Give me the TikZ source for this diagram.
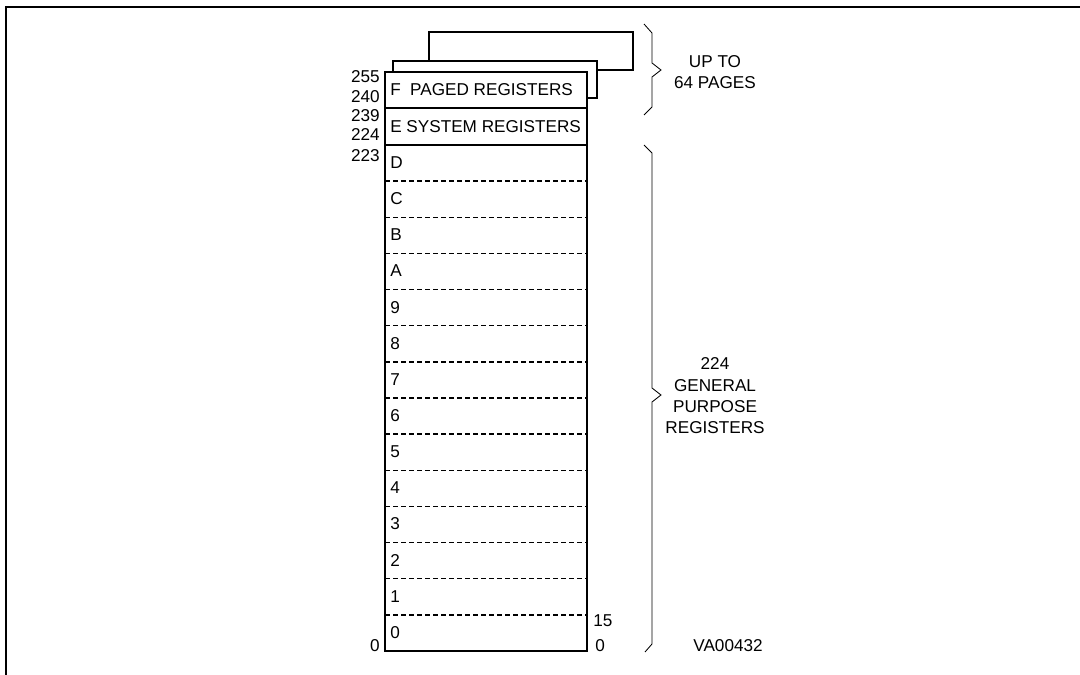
\documentclass[tikz,border=0pt]{standalone}
\usepackage{fontspec}
\setmainfont{Liberation Sans}
\usetikzlibrary{positioning}
\tikzset{
  frame/.style={line width=1.6pt},
  page/.style={draw,line width=1.3pt,fill=white},
  regbox/.style={draw,line width=1.3pt,fill=white},
  divider/.style={line width=1.1pt,dash pattern=on 3.6pt off 2.1pt},
  bracket/.style={line width=0.6pt},
  rowtext/.style={anchor=west,inner sep=0pt,font=\fontsize{12.2}{14}\selectfont},
  addr/.style={anchor=east,inner sep=0pt,font=\fontsize{12.2}{14}\selectfont},
  bit/.style={anchor=west,inner sep=0pt,font=\fontsize{12.2}{14}\selectfont},
  note/.style={align=center,inner sep=0pt,font=\fontsize{12.2}{15.2}\selectfont}
}

\begin{document}
\begin{tikzpicture}[x=0.025cm,y=-0.025cm]
  \useasboundingbox (0,0) rectangle (1080,675);
  \draw[frame] (1080,7) -- (6,7) -- (6,675);
  \draw[page] (429,32) rectangle (633,70);
  \draw[page] (393,61) rectangle (597,98);
  \draw[regbox] (385,72) rectangle (587,108);
  \draw[regbox] (385,108) rectangle (587,145);
  \draw[regbox] (385,145) rectangle (587,651);
  \foreach \i in {1,...,13}
    \draw[divider] (385,651-36.143*\i) -- (587,651-36.143*\i);
  \foreach \r [count=\i from 0] in {0,1,2,3,4,5,6,7,8,9,A,B,C,D}
    \node[rowtext] (row\r) at (390,651-36.143*\i-18.5) {\r};
  \node[rowtext] (rowF) at (390,90) {F\hspace{0.55em}PAGED REGISTERS};
  \node[rowtext] (rowE) at (390,126.5) {E SYSTEM REGISTERS};
  \node[addr] (a255) at (380,77) {255};
  \node[addr] (a240) at (380,97) {240};
  \node[addr] (a239) at (380,115.5) {239};
  \node[addr] (a224) at (380,135) {224};
  \node[addr] (a223) at (380,156) {223};
  \node[addr] (a0) at (380,646) {0};
  \node[bit] (b15) at (593,621) {15};
  \node[bit] (b0) at (595,646) {0};
  \draw[bracket] (644,24) -- (652,33) -- (652,63) -- (661,70) -- (652,77) -- (652,107) -- (644,115);
  \draw[bracket] (644,145) -- (652,153) -- (652,388) -- (661,395) -- (652,402) -- (652,644) -- (645,652);
  \node[note] (pages) at (715,72) {UP TO\\64 PAGES};
  \node[note] (gpr) at (715,396) {224\\GENERAL\\PURPOSE\\REGISTERS};
  \node[note] (ref) at (728,646) {VA00432};
\end{tikzpicture}
\end{document}
